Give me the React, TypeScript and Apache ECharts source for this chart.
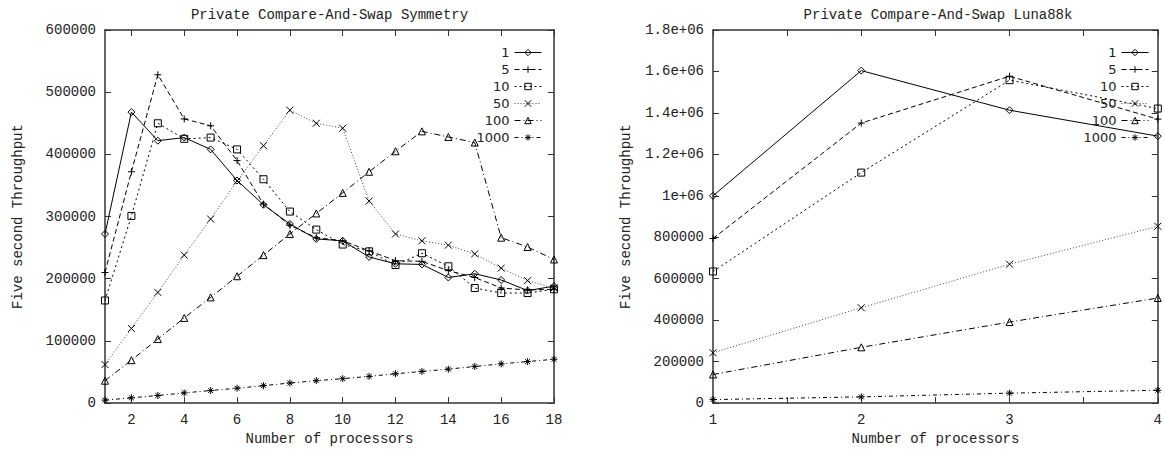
import React, { useEffect, useRef } from "react";
import * as echarts from "echarts";

// ---------- data ----------
const SERIES_NAMES = ["1", "5", "10", "50", "100", "1000"];

const SYM_PROCS = [1, 2, 3, 4, 5, 6, 7, 8, 9, 10, 11, 12, 13, 14, 15, 16, 17, 18];
const SYM_1 = [272000, 468000, 422000, 427000, 408000, 358000, 319000, 288000, 264000, 261000, 235000, 224000, 223000, 202000, 208000, 198000, 181000, 188000];
const SYM_5 = [210000, 372000, 528000, 457000, 446000, 390000, 320000, 286000, 266000, 261000, 245000, 229000, 228000, 213000, 202000, 185000, 182000, 183000];
const SYM_10 = [165000, 301000, 450000, 425000, 427000, 408000, 360000, 308000, 279000, 255000, 244000, 222000, 241000, 220000, 185000, 177000, 177000, 183000];
const SYM_50 = [62000, 120000, 178000, 238000, 296000, 357000, 414000, 471000, 450000, 442000, 325000, 272000, 261000, 254000, 240000, 217000, 197000, 185000];
const SYM_100 = [36000, 69000, 103000, 137000, 170000, 204000, 238000, 272000, 305000, 338000, 372000, 405000, 437000, 428000, 419000, 266000, 251000, 231000];
const SYM_1000 = [4800, 8500, 12200, 16400, 20200, 23900, 28100, 32300, 36100, 39300, 43000, 47200, 50900, 54600, 58900, 63100, 66800, 70500];

const LUNA_PROCS = [1, 2, 3, 4];
const LUNA_1 = [1000000, 1604000, 1413000, 1288000];
const LUNA_5 = [794000, 1351000, 1577000, 1370000];
const LUNA_10 = [635000, 1112000, 1558000, 1421000];
const LUNA_50 = [243000, 460000, 670000, 853000];
const LUNA_100 = [138000, 269000, 391000, 507000];
const LUNA_1000 = [17000, 30000, 48000, 62000];

const SYM_XTICKS = [2, 4, 6, 8, 10, 12, 14, 16, 18];

const TITLE_LEFT = "Private Compare-And-Swap Symmetry";
const TITLE_RIGHT = "Private Compare-And-Swap Luna88k";
const X_NAME = "Number of processors";
const Y_NAME = "Five second Throughput";

// ---------- styles ----------
const MONO = "Liberation Mono";
const TXT = "#222";
const FRAME = "#333";

const SYMBOLS = [
  "diamond",
  "path://M0,5L10,5M5,0L5,10",
  "rect",
  "path://M0,0L10,10M10,0L0,10",
  "triangle",
  "path://M0,5L10,5M5,0L5,10M1.5,1.5L8.5,8.5M8.5,1.5L1.5,8.5",
];
const DASHES: any[] = ["solid", [5, 3], [2, 3], [1, 2], [6, 3, 1, 3], [4, 3, 1, 3]];
const LINE_COLORS = ["#000", "#000", "#000", "#444", "#000", "#000"];

function buildSeries(procs: number[], values: number[][], axisIdx: number) {
  return values.map((vals, i) => ({
    name: SERIES_NAMES[i],
    type: "line",
    xAxisIndex: axisIdx,
    yAxisIndex: axisIdx,
    data: procs.map((p, j) => [p, vals[j]]),
    symbol: SYMBOLS[i],
    symbolSize: 7,
    showSymbol: true,
    lineStyle: { color: LINE_COLORS[i], width: 1, type: DASHES[i] },
    itemStyle: { color: "none", borderColor: "#000", borderWidth: 1 },
    emphasis: { disabled: true },
  }));
}

function xAxisBase(grid: number, pos: string, min: number, max: number) {
  return {
    type: "value",
    gridIndex: grid,
    position: pos,
    min,
    max,
    splitLine: { show: false },
    axisLine: { show: true, onZero: false, lineStyle: { color: FRAME, width: 1.5 } },
    axisTick: { show: true, inside: true, length: 6, lineStyle: { color: FRAME } },
  };
}

function yAxisBase(grid: number, pos: string, max: number, interval: number) {
  return {
    type: "value",
    gridIndex: grid,
    position: pos,
    min: 0,
    max,
    interval,
    splitLine: { show: false },
    axisLine: { show: true, onZero: false, lineStyle: { color: FRAME, width: 1.5 } },
    axisTick: { show: true, inside: true, length: 6, lineStyle: { color: FRAME } },
  };
}

const labelStyle = { fontFamily: MONO, fontSize: 14, color: TXT };
const nameStyle = { fontFamily: MONO, fontSize: 14, color: TXT };

function fmtE(v: number) {
  if (v >= 1000000) return v / 1000000 + "e+06";
  return String(v);
}

export default function App() {
  const ref = useRef<HTMLDivElement>(null);
  useEffect(() => {
    if (!ref.current) return;
    const chart = echarts.init(ref.current, undefined, { renderer: "svg" });
    const legendCommon = {
      data: SERIES_NAMES,
      orient: "vertical",
      align: "right",
      top: 46,
      padding: 0,
      itemWidth: 27,
      itemHeight: 8,
      itemGap: 4,
      selectedMode: false,
      itemStyle: { color: "none", borderColor: "#000", borderWidth: 1 },
      lineStyle: { width: 1 },
      textStyle: { fontFamily: "DejaVu Sans", fontSize: 13, color: TXT, lineHeight: 13 },
    };
    chart.setOption({
      animation: false,
      backgroundColor: "#fff",
      title: [
        { text: TITLE_LEFT, left: 329.5, top: 8, textAlign: "center", padding: 0, textStyle: { fontFamily: MONO, fontSize: 14, fontWeight: "normal", color: TXT } },
        { text: TITLE_RIGHT, left: 938, top: 8, textAlign: "center", padding: 0, textStyle: { fontFamily: MONO, fontSize: 14, fontWeight: "normal", color: TXT } },
      ],
      legend: [
        { ...legendCommon, right: 623 },
        { ...legendCommon, right: 16 },
      ],
      grid: [
        { left: 105, top: 30, width: 449, height: 377 },
        { left: 713, top: 30, width: 450, height: 377 },
      ],
      xAxis: [
        {
          ...xAxisBase(0, "bottom", 1, 18),
          axisTick: { show: true, inside: true, length: 6, lineStyle: { color: FRAME }, customValues: SYM_XTICKS },
          axisLabel: { ...labelStyle, margin: 10, customValues: SYM_XTICKS },
          name: X_NAME,
          nameLocation: "middle",
          nameGap: 28,
          nameTextStyle: nameStyle,
        },
        {
          ...xAxisBase(1, "bottom", 1, 4),
          interval: 0.5,
          axisLabel: { ...labelStyle, margin: 10, formatter: (v: number) => (Number.isInteger(v) ? String(v) : "") },
          name: X_NAME,
          nameLocation: "middle",
          nameGap: 28,
          nameTextStyle: nameStyle,
        },
        {
          ...xAxisBase(0, "top", 1, 18),
          axisTick: { show: true, inside: true, length: 6, lineStyle: { color: FRAME }, customValues: SYM_XTICKS },
          axisLabel: { show: false },
        },
        {
          ...xAxisBase(1, "top", 1, 4),
          interval: 0.5,
          axisLabel: { show: false },
        },
      ],
      yAxis: [
        {
          ...yAxisBase(0, "left", 600000, 100000),
          axisLabel: { ...labelStyle, margin: 9, formatter: (v: number) => String(v) },
          name: Y_NAME,
          nameLocation: "middle",
          nameGap: 80,
          nameTextStyle: nameStyle,
        },
        {
          ...yAxisBase(1, "left", 1800000, 200000),
          axisLabel: { ...labelStyle, margin: 9, formatter: fmtE },
          name: Y_NAME,
          nameLocation: "middle",
          nameGap: 80,
          nameTextStyle: nameStyle,
        },
        { ...yAxisBase(0, "right", 600000, 100000), axisLabel: { show: false } },
        { ...yAxisBase(1, "right", 1800000, 200000), axisLabel: { show: false } },
      ],
      series: [
        ...buildSeries(SYM_PROCS, [SYM_1, SYM_5, SYM_10, SYM_50, SYM_100, SYM_1000], 0),
        ...buildSeries(LUNA_PROCS, [LUNA_1, LUNA_5, LUNA_10, LUNA_50, LUNA_100, LUNA_1000], 1),
      ],
    });
    return () => chart.dispose();
  }, []);
  return (
    <div
      ref={ref}
      style={{ position: "fixed", left: 0, top: 0, width: 1165, height: 451, background: "#fff" }}
    />
  );
}
